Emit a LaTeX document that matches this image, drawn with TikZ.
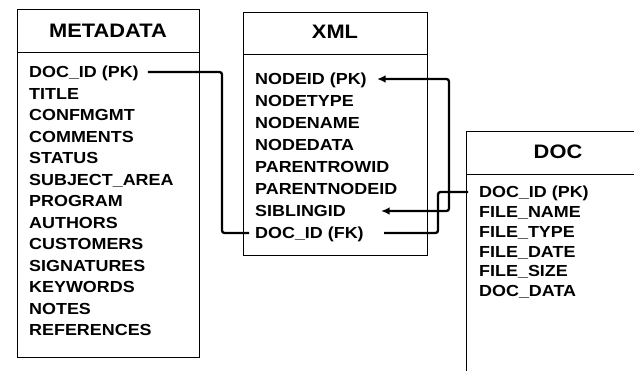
\documentclass[tikz,border=0pt]{standalone}
\usepackage{fontspec}
\setmainfont{Liberation Sans}[FakeStretch=1.12]
\usetikzlibrary{arrows.meta}
\begin{document}
\begin{tikzpicture}[x=1pt,y=-1pt,
  field/.style={anchor=west,inner sep=0pt,font=\bfseries\fontsize{16}{17}\selectfont,text height=11.5pt,text depth=0pt},
  ttl/.style={inner sep=0pt,font=\bfseries\fontsize{19.5}{21}\selectfont},
  frame/.style={line width=0.8pt},
  link/.style={line width=2.3pt,rounded corners=2.5pt},
  tips/.style={{Latex[length=8.5pt,width=7.5pt]}-{Latex[length=8.5pt,width=7.5pt]}}]
\useasboundingbox (0,0) rectangle (634,370);
% METADATA table
\draw[frame] (17,9) rectangle (199,357);
\draw[frame] (17,52) -- (199,52);
\node[ttl] (mt) at (108,31) {METADATA};
\foreach [count=\i] \t in {DOC\_ID (PK),TITLE,CONFMGMT,COMMENTS,STATUS,SUBJECT\_AREA,PROGRAM,AUTHORS,CUSTOMERS,SIGNATURES,KEYWORDS,NOTES,REFERENCES}
  \node[field] (m\i) at (29,{72+21.5*(\i-1)}) {\t};
% XML table
\draw[frame] (243,12) rectangle (427,255);
\draw[frame] (243,54) -- (427,54);
\node[ttl] (xt) at (335,32) {XML};
\foreach [count=\i] \t in {NODEID (PK),NODETYPE,NODENAME,NODEDATA,PARENTROWID,PARENTNODEID,SIBLINGID,DOC\_ID (FK)}
  \node[field] (x\i) at (255,{79+22*(\i-1)}) {\t};
% DOC table (cut off at right and bottom)
\begin{scope}
  \clip (0,0) rectangle (634,370);
  \draw[frame] (640,131) -- (466,131) -- (466,375);
  \draw[frame] (466,174) -- (640,174);
\end{scope}
\node[ttl] (dt) at (558,152) {DOC};
\foreach [count=\i] \t in {DOC\_ID (PK),FILE\_NAME,FILE\_TYPE,FILE\_DATE,FILE\_SIZE,DOC\_DATA}
  \node[field] (d\i) at (479,{192+19.8*(\i-1)}) {\t};
% connector helper columns
\coordinate (ca) at (222,0);
\coordinate (cb) at (249,0);
\coordinate (t1) at (377,0);
\coordinate (cr) at (449,0);
\coordinate (t2) at (381,0);
\coordinate (s3) at (384,0);
\coordinate (cu) at (438,0);
\coordinate (de) at (468,0);
% METADATA.DOC_ID -> XML.DOC_ID
\draw[link] ([xshift=9pt]m1.east) -| (ca |- x8) -- (cb |- x8);
% XML self reference NODEID <-> SIBLINGID
\draw[link,tips] (t1 |- x1) -| (cr |- x7) -- (t2 |- x7);
% XML.DOC_ID -> DOC.DOC_ID
\draw[link] (s3 |- x8) -| (cu |- d1) -- (de |- d1);
\end{tikzpicture}
\end{document}
